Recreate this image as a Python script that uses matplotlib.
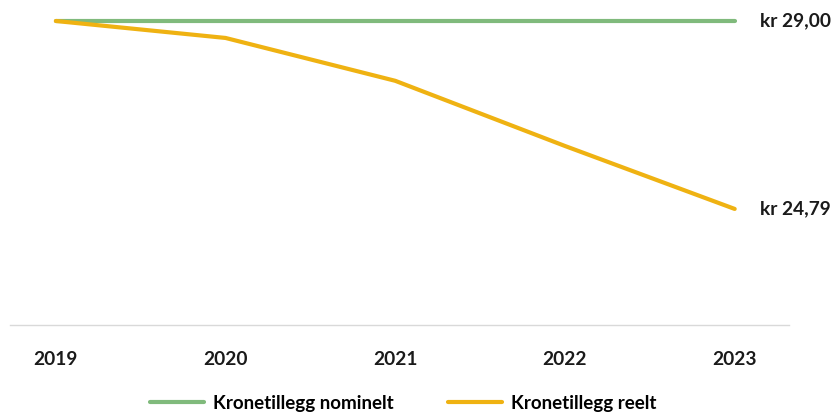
import matplotlib.pyplot as plt

plt.rcParams['font.family'] = ['Lato', 'DejaVu Sans']

years = [2019, 2020, 2021, 2022, 2023]
nominelt = [29.00, 29.00, 29.00, 29.00, 29.00]
reelt = [29.00, 28.62, 27.66, 26.20, 24.79]
end_labels = ["kr 29,00", "kr 24,79"]
series_names = ["Kronetillegg nominelt", "Kronetillegg reelt"]

green = "#80ba7c"
orange = "#efb212"

fig = plt.figure(figsize=(8.34, 4.12), dpi=100)
ax = fig.add_axes([10/834, 1 - 325/412, 779/834, 317.4/412])

ax.plot(years, nominelt, color=green, lw=3, solid_capstyle="round", label=series_names[0])
ax.plot(years, reelt, color=orange, lw=3, solid_capstyle="round", label=series_names[1])

ax.set_xlim(2018.73, 2023.32)
ax.set_ylim(22.19, 29.3)

# end labels
ax.annotate(end_labels[0], (years[-1], nominelt[-1]), xytext=(18.5, 0), textcoords="offset points",
            va="center", ha="left", fontsize=13.8, fontweight="bold", color="#1a1a1a",
            annotation_clip=False)
ax.annotate(end_labels[1], (years[-1], reelt[-1]), xytext=(18.5, 0), textcoords="offset points",
            va="center", ha="left", fontsize=13.8, fontweight="bold", color="#1a1a1a",
            annotation_clip=False)

for s in ["top", "right", "left"]:
    ax.spines[s].set_visible(False)
ax.spines["bottom"].set_color("#d9d9d9")
ax.spines["bottom"].set_linewidth(1)
ax.set_yticks([])
ax.set_xticks(years)
ax.set_xticklabels([str(y) for y in years], fontsize=13.8, fontweight="bold", color="#1a1a1a")
ax.tick_params(axis="x", length=0, pad=19)

fig.legend(loc="center", bbox_to_anchor=(403/834, 1 - 403/412), ncol=2, frameon=False,
           prop={"weight": "bold", "size": 13.5}, handlelength=2.9,
           columnspacing=2.9, handletextpad=0.45)

fig.savefig("out.png", dpi=100)
